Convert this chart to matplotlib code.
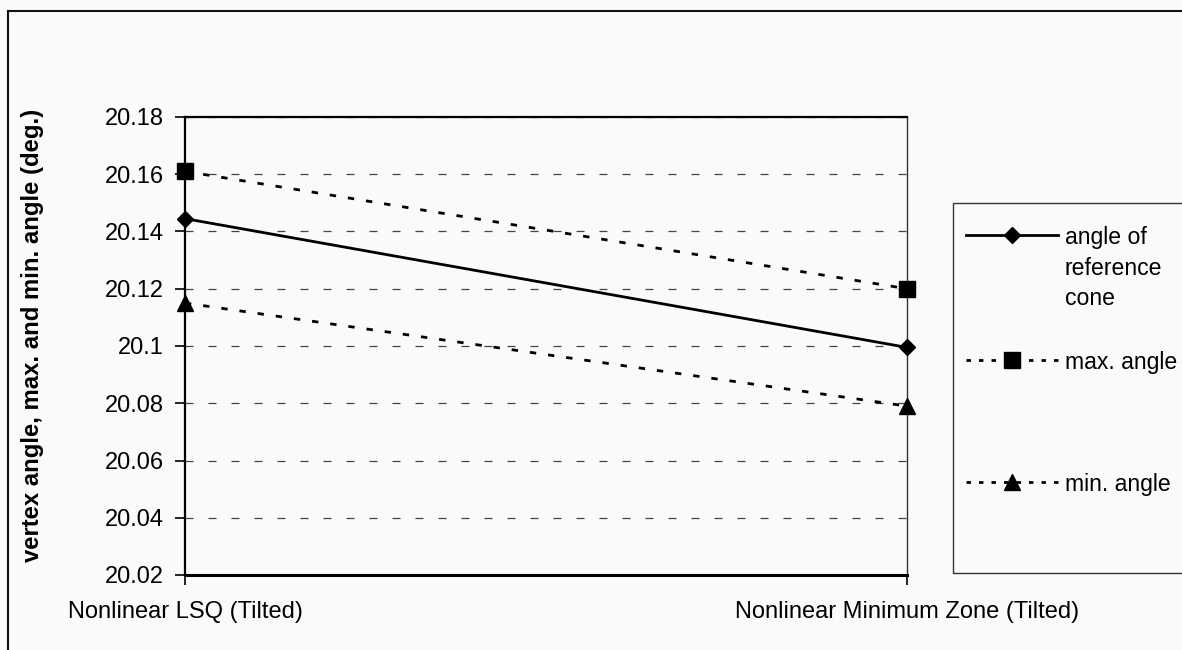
import matplotlib
matplotlib.use("Agg")
import matplotlib.pyplot as plt
from matplotlib.lines import Line2D
from matplotlib.patches import Rectangle

plt.rcParams['font.family'] = ['Liberation Sans', 'DejaVu Sans']

# Data
methods = ["Nonlinear LSQ (Tilted)", "Nonlinear Minimum Zone (Tilted)"]
reference_angle = [20.1445, 20.0995]
max_angle = [20.161, 20.12]
min_angle = [20.115, 20.079]
series_labels = ["angle of\nreference\ncone", "max. angle", "min. angle"]
y_ticks = [20.02, 20.04, 20.06, 20.08, 20.10, 20.12, 20.14, 20.16, 20.18]
y_tick_labels = ["20.02", "20.04", "20.06", "20.08", "20.1", "20.12", "20.14", "20.16", "20.18"]

W, H = 1182, 650
BG = '#fafafa'
FS = 17

fig = plt.figure(figsize=(W / 100, H / 100), dpi=100, facecolor=BG)


def fx(px):
    return px / W


def fy(py):
    return 1 - py / H


ax = fig.add_axes([fx(185), fy(575), fx(907) - fx(185), fy(117) - fy(575)])
ax.set_facecolor(BG)

x = list(range(len(methods)))
dot_style = (0, (2.3, 4.3))

ax.plot(x, reference_angle, color='black', lw=2.0, marker='D', ms=8.5,
        clip_on=False, zorder=5)
ax.plot(x, max_angle, color='black', lw=2.0, linestyle=dot_style, dash_capstyle='butt',
        marker='s', ms=11.5, clip_on=False, zorder=5)
ax.plot(x, min_angle, color='black', lw=2.0, linestyle=dot_style, dash_capstyle='butt',
        marker='^', ms=12, clip_on=False, zorder=5)

ax.set_xlim(0, 1)
ax.set_ylim(20.02, 20.18)
ax.set_yticks(y_ticks)
ax.set_yticklabels(y_tick_labels)
ax.set_xticks(x)
ax.set_xticklabels(methods)

ax.tick_params(axis='y', direction='out', length=7, width=1.2, pad=8,
               labelsize=FS, colors='black')
ax.tick_params(axis='x', direction='out', length=7, width=1.2, pad=12,
               labelsize=FS, colors='black')

ax.yaxis.grid(True, color='#444444', lw=0.9, linestyle=(0, (6.4, 12)), zorder=0)
ax.set_axisbelow(True)

ax.spines['left'].set_linewidth(1.6)
ax.spines['bottom'].set_linewidth(2.2)
ax.spines['top'].set_linewidth(1.6)
ax.spines['right'].set_linewidth(1.0)
ax.spines['right'].set_color('#333333')
for s in ax.spines.values():
    s.set_zorder(4)

fig.text(fx(33), fy(335), "vertex angle, max. and min. angle (deg.)",
         rotation=90, ha='center', va='center', fontsize=17.2, fontweight='bold')

# Outer chart frame
fig.add_artist(Line2D([fx(8), fx(W + 5)], [fy(11), fy(11)], color='#111111', lw=1.5))
fig.add_artist(Line2D([fx(8), fx(8)], [fy(11), fy(H + 5)], color='#111111', lw=1.5))

# Legend box
fig.add_artist(Rectangle((fx(953), fy(573)), fx(1250) - fx(953), fy(203) - fy(573),
                         facecolor='none', edgecolor='#333333', lw=1.0))

leg_dot = (0, (1.6, 2.9))
entries = [
    (235, 226, '-', 'D', 8.5),
    (360, 351, leg_dot, 's', 11.5),
    (482, 473, leg_dot, '^', 12),
]
for (ly, top, ls, mk, ms), lab in zip(entries, series_labels):
    fig.add_artist(Line2D([fx(966), fx(1058)], [fy(ly), fy(ly)], color='black',
                          lw=2.0, linestyle=ls, dash_capstyle='butt'))
    fig.add_artist(Line2D([fx(1012)], [fy(ly)], color='black', marker=mk, ms=ms,
                          linestyle='none'))
    fig.text(fx(1065), fy(top), lab, ha='left', va='top', fontsize=16.6,
             linespacing=1.42)

fig.savefig("out.png", dpi=100, facecolor=BG)
